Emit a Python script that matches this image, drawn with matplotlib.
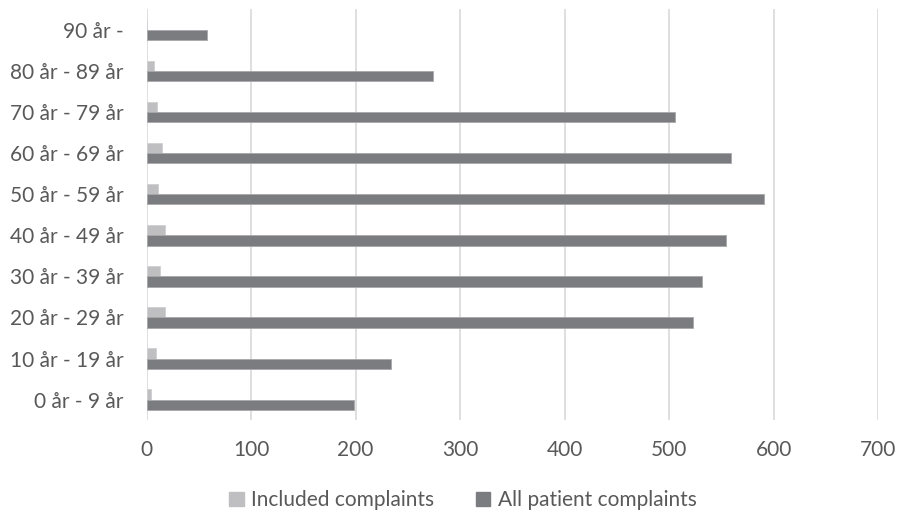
import numpy as np
import matplotlib.pyplot as plt
from matplotlib.patches import Patch

# age groups, bottom to top
categories = ["0 år - 9 år", "10 år - 19 år", "20 år - 29 år", "30 år - 39 år",
              "40 år - 49 år", "50 år - 59 år", "60 år - 69 år", "70 år - 79 år",
              "80 år - 89 år", "90 år -"]
included = [4, 9, 18, 13, 18, 11, 15, 10, 7, 0]
all_complaints = [198, 234, 523, 531, 554, 591, 559, 506, 274, 58]
xticks = [0, 100, 200, 300, 400, 500, 600, 700]

text_col = "#595959"
light = "#bfbfc1"
dark = "#7b7c80"

plt.rcParams['font.family'] = ['Lato', 'DejaVu Sans']

fig = plt.figure(figsize=(8.97, 5.13), dpi=100)
ax = fig.add_axes([0.1635, 0.181, 0.8155, 0.801])

y = np.arange(len(categories))
h = 0.25
ax.barh(y + h / 2, included, height=h, color=light, edgecolor="#d0d0d2", linewidth=0.6, zorder=3)
ax.barh(y - h / 2, all_complaints, height=h, color=dark, edgecolor="#a8a8ab", linewidth=0.6, zorder=3)

ax.set_xlim(0, 700)
ax.set_ylim(-0.5, len(categories) - 0.5)
ax.set_xticks(xticks)
ax.set_yticks(y)
ax.set_yticklabels(categories)
ax.xaxis.grid(True, color="#d9d9d9", linewidth=1.2, zorder=0)
ax.set_axisbelow(True)
for s in ax.spines.values():
    s.set_visible(False)
ax.tick_params(axis='both', length=0, labelsize=15, colors=text_col)
ax.tick_params(axis='x', pad=14)
ax.tick_params(axis='y', pad=16.5)

handles = [Patch(color=light, label="Included complaints"),
           Patch(color=dark, label="All patient complaints")]
fig.legend(handles=handles, loc='center', bbox_to_anchor=(0.516, 0.025), ncol=2,
           frameon=False, fontsize=15, labelcolor=text_col, handlelength=0.7,
           handleheight=0.7, handletextpad=0.35, columnspacing=2.0)

fig.savefig("out.png", dpi=100)
